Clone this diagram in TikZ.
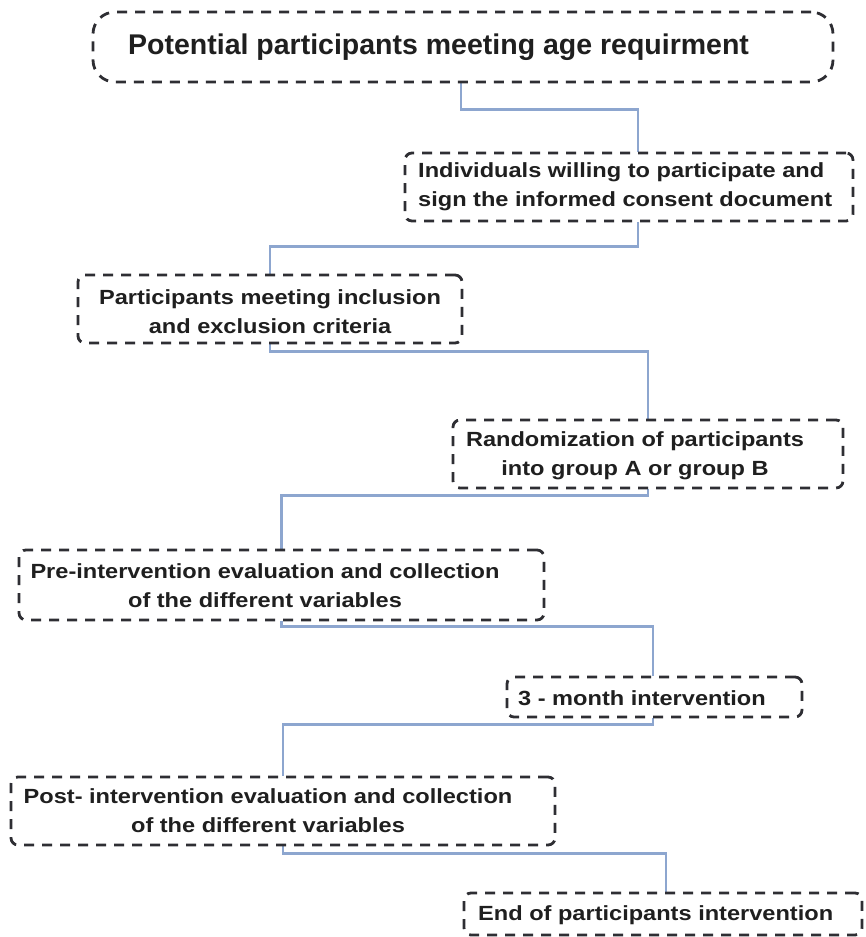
\documentclass[tikz,border=0pt]{standalone}
\usepackage{fontspec}
\setmainfont{Liberation Sans}
\newfontfamily\widefont{Liberation Sans}[FakeStretch=1.15]
\usetikzlibrary{backgrounds}
\definecolor{boxline}{HTML}{2E2E33}
\definecolor{connline}{HTML}{8DA6CF}
\tikzset{
  stagebox/.style={draw=boxline, line width=2.8pt, dash pattern=on 10pt off 8pt,
    rounded corners=7pt, inner sep=0pt, fill=none},
  stagetext/.style={inner sep=0pt, font=\widefont\bfseries\fontsize{20.5}{29}\selectfont, text=black!88},
  conn/.style={draw=connline, line width=2.3pt}
}
\begin{document}
\begin{tikzpicture}[x=1pt,y=-1pt]
\useasboundingbox (0,0) rectangle (866,937);
% boxes
\node[stagebox, rounded corners=22pt, minimum width=740pt, minimum height=70pt] (b1) at (463,47) {};
\node[stagebox, minimum width=448pt, minimum height=68pt] (b2) at (629,187) {};
\node[stagebox, minimum width=384pt, minimum height=68pt] (b3) at (270,309) {};
\node[stagebox, minimum width=390pt, minimum height=68pt] (b4) at (648,454) {};
\node[stagebox, minimum width=525pt, minimum height=70pt] (b5) at (281.5,585) {};
\node[stagebox, minimum width=295pt, minimum height=40pt] (b6) at (654.5,697) {};
\node[stagebox, minimum width=544pt, minimum height=68pt] (b7) at (283,811) {};
\node[stagebox, minimum width=398pt, minimum height=42pt] (b8) at (663,914) {};
% texts
\node[inner sep=0pt, anchor=west, font=\bfseries\fontsize{28.5}{34}\selectfont, text=black!88] (t1) at (128,47) {Potential participants meeting age requirment};
\node[stagetext, anchor=west, align=left] (t2) at (418,187) {Individuals willing to participate and\\sign the informed consent document};
\node[stagetext, align=center] (t3) at (270,312) {Participants meeting inclusion\\and exclusion criteria};
\node[stagetext, align=center] (t4) at (635,456) {Randomization of participants\\into group A or group B};
\node[stagetext, align=center] (t5) at (265,586) {Pre-intervention evaluation and collection\\of the different variables};
\node[stagetext, anchor=west] (t6) at (518,698) {3 - month intervention};
\node[stagetext, align=center] (t7) at (268,811) {Post- intervention evaluation and collection\\of the different variables};
\node[stagetext, anchor=west] (t8) at (478,915) {End of participants intervention};
% connectors
\begin{scope}[on background layer]
\fill[white] (0,0) rectangle (866,937);
\draw[conn] ([xshift=-2pt]b1.south) -- ++(0,26) -| ([xshift=9pt]b2.north);
\draw[conn] ([xshift=9pt]b2.south) -- ++(0,24) -| (b3.north);
\draw[conn] (b3.south) -- ++(0,7) -| (b4.north);
\draw[conn] (b4.south) -- ++(0,6) -| (b5.north);
\draw[conn] (b5.south) -- ++(0,5) -| ([xshift=-1.5pt]b6.north);
\draw[conn] ([xshift=-1.5pt]b6.south) -- ++(0,6) -| (b7.north);
\draw[conn] (b7.south) -- ++(0,7) -| ([xshift=3pt]b8.north);
\end{scope}
\end{tikzpicture}
\end{document}
